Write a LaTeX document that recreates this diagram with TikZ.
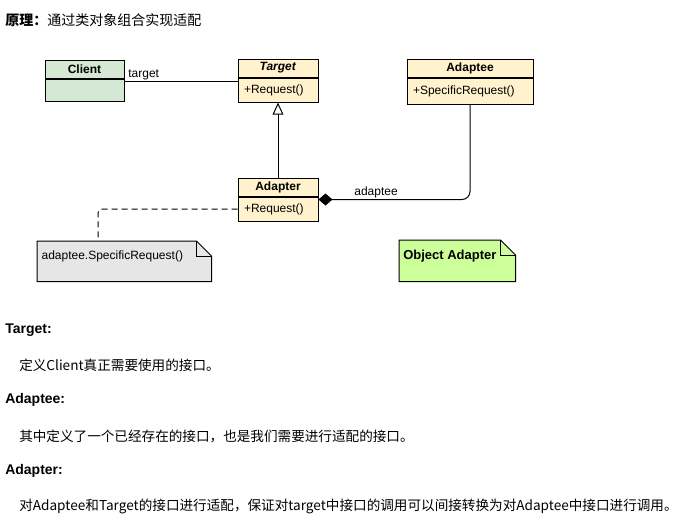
\documentclass[tikz,border=0pt]{standalone}
\usepackage{fontspec}
\setmainfont{Liberation Sans}
\newfontfamily\cjk{Noto Sans CJK SC}
\usepackage{tikz}
\usetikzlibrary{arrows.meta, positioning, calc}
\definecolor{clientgreen}{HTML}{D5E8D4}
\definecolor{classyellow}{HTML}{FFF2CC}
\definecolor{notegray}{HTML}{E6E6E6}
\definecolor{notegreen}{HTML}{CCFF99}

\begin{document}
\begin{tikzpicture}[
        x=0.75pt, y=-0.75pt,
        class_head/.style={rectangle, draw=black, line width=0.75pt, minimum height=13.5pt, inner sep=0pt,
                           font=\fontsize{9}{10}\selectfont\bfseries},
        class_body/.style={rectangle, draw=black, line width=0.75pt, inner xsep=4.5pt, inner ysep=0pt,
                           text width=#1, align=left, font=\fontsize{9}{10}\selectfont},
        note_box/.style={rectangle, inner sep=0pt},
        note_fold/.style={draw=black, line width=0.75pt},
        link/.style={draw=black, line width=0.75pt},
        lbl/.style={font=\fontsize{9}{10}\selectfont, inner sep=1pt},
        heading/.style={anchor=west, inner sep=0pt, font=\fontsize{10.5}{12}\selectfont\bfseries},
        para/.style={anchor=west, inner sep=0pt, font=\cjk\fontsize{10.2}{12}\selectfont}
    ]

    \useasboundingbox (0,0) rectangle (689,519);

    \node[anchor=west, inner sep=0pt, font=\cjk\fontsize{10.5}{12}\selectfont] (title) at (5,20) {\textbf{原理：}通过类对象组合实现适配};

    % classes
    \node[class_head, fill=clientgreen, minimum width=59.25pt] (client_head) at (84.5,69) {Client};
    \node[class_body=50.25pt, fill=clientgreen, minimum height=16.5pt, below=0pt of client_head] (client_body) {};

    \node[class_head, fill=classyellow, minimum width=60pt] (target_head) at (278,68) {\textit{Target}};
    \node[class_body=51pt, fill=classyellow, minimum height=18pt, below=0pt of target_head] (target_body) {+Request()};

    \node[class_head, fill=classyellow, minimum width=94.5pt] (adaptee_head) at (470,68) {Adaptee};
    \node[class_body=85.5pt, fill=classyellow, minimum height=19.5pt, below=0pt of adaptee_head] (adaptee_body) {+SpecificRequest()};

    \node[class_head, fill=classyellow, minimum width=60pt] (adapter_head) at (278,187) {Adapter};
    \node[class_body=51pt, fill=classyellow, minimum height=18pt, below=0pt of adapter_head] (adapter_body) {+Request()};

    % notes
    \node[note_box, minimum width=130.5pt, minimum height=30pt, anchor=north west] (impl_note) at (37,241) {};
    \filldraw[note_fold, fill=notegray] (impl_note.north west) -- ([xshift=-11.25pt]impl_note.north east)
        -- ([yshift=-11.25pt]impl_note.north east) -- (impl_note.south east) -- (impl_note.south west) -- cycle;
    \draw[note_fold] ([xshift=-11.25pt]impl_note.north east) |- ([yshift=-11.25pt]impl_note.north east);
    \node[lbl, anchor=west] (impl_text) at ([shift={(2.25pt,-11.25pt)}]impl_note.north west) {adaptee.SpecificRequest()};

    \node[note_box, minimum width=87pt, minimum height=30.75pt, anchor=north west] (obj_note) at (399,240) {};
    \filldraw[note_fold, fill=notegreen] (obj_note.north west) -- ([xshift=-11.25pt]obj_note.north east)
        -- ([yshift=-11.25pt]obj_note.north east) -- (obj_note.south east) -- (obj_note.south west) -- cycle;
    \draw[note_fold] ([xshift=-11.25pt]obj_note.north east) |- ([yshift=-11.25pt]obj_note.north east);
    \node[anchor=west, inner sep=0pt, font=\fontsize{9.75}{11}\selectfont\bfseries] (obj_text) at ([shift={(3pt,-12pt)}]obj_note.north west) {Object Adapter};

    % connectors
    \draw[link] ([yshift=-2.25pt]client_body.north east) -- node[lbl, pos=0, above right, xshift=1.5pt] {target} ([yshift=-3pt]target_body.north west);
    \draw[link, -{Triangle[open, width=8pt, length=9pt]}] (adapter_head.north) -- (target_body.south);
    \draw[link, {Diamond[width=9pt, length=10.5pt]}-, rounded corners=6pt] ([yshift=-2.25pt]adapter_body.north east)
        -| node[lbl, pos=0.19, above] {adaptee} (adaptee_body.south);
    \draw[link, dash pattern=on 4.5pt off 3pt, rounded corners=3pt] (adapter_body.west) -| ([xshift=45.75pt]impl_note.north west);

    % description
    \node[heading] (target_title) at (5,330) {Target:};
    \node[para] (target_desc) at (19,365) {定义Client真正需要使用的接口。};
    \node[heading] (adaptee_title) at (5,400) {Adaptee:};
    \node[para] (adaptee_desc) at (19,436) {其中定义了一个已经存在的接口，也是我们需要进行适配的接口。};
    \node[heading] (adapter_title) at (5,471) {Adapter:};
    \node[para] (adapter_desc) at (19,506) {对Adaptee和Target的接口进行适配，保证对target中接口的调用可以间接转换为对Adaptee中接口进行调用。};
\end{tikzpicture}
\end{document}
